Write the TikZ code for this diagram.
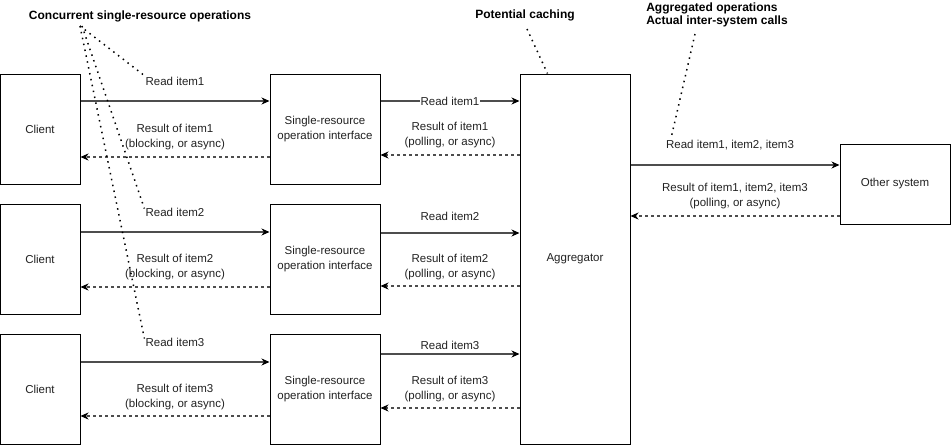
\documentclass[tikz,border=0pt]{standalone}
\usepackage{fontspec}
\setmainfont{Liberation Sans}
\usetikzlibrary{arrows.meta}
\definecolor{lne}{HTML}{4D4D4D}
\definecolor{txt}{HTML}{222222}
\begin{document}
\begin{tikzpicture}[x=1pt,y=-1pt,
  font=\fontsize{11.5}{15}\selectfont,
  box/.style={draw=black,line width=1pt,fill=white,minimum width=110pt,minimum height=110pt,inner sep=0pt,align=center,text=txt},
  fwd/.style={draw=lne,line width=1.2pt,-{Stealth[length=8pt,width=7pt,inset=2.5pt,color=black]}},
  bwd/.style={draw=lne,line width=1.1pt,dash pattern=on 3pt off 3pt,-{Stealth[length=8pt,width=7pt,inset=2.5pt,color=black]}},
  lbl/.style={align=center,text=txt,inner sep=1pt},
  ann/.style={align=left,font=\fontsize{12}{13.5}\selectfont\bfseries,inner sep=0pt},
  dots/.style={draw=black,line width=1.5pt,dash pattern=on 1.5pt off 4.5pt}]
\useasboundingbox (0,0) rectangle (951,445);

% boxes
\node[box,minimum width=80pt] (c1) at (40,129) {Client};
\node[box,minimum width=80pt] (c2) at (40,259) {Client};
\node[box,minimum width=80pt] (c3) at (40,389) {Client};
\node[box] (s1) at (325,129) {Single-resource\\operation interface};
\node[box] (s2) at (325,259) {Single-resource\\operation interface};
\node[box] (s3) at (325,389) {Single-resource\\operation interface};
\node[box,minimum height=370pt] (agg) at (575,259) {Aggregator};
\node[box,minimum height=80pt] (oth) at (895,184) {Other system};

% client <-> SRO
\draw[fwd] ([yshift=28]c1.east) -- ([yshift=28]s1.west);
\draw[bwd] ([yshift=-28]s1.west) -- ([yshift=-28]c1.east);
\draw[fwd] ([yshift=27]c2.east) -- ([yshift=27]s2.west);
\draw[bwd] ([yshift=-28]s2.west) -- ([yshift=-28]c2.east);
\draw[fwd] ([yshift=27]c3.east) -- ([yshift=27]s3.west);
\draw[bwd] ([yshift=-27]s3.west) -- ([yshift=-27]c3.east);

% SRO <-> aggregator
\draw[fwd] ([yshift=28]s1.east) -- ([yshift=28]s1.east -| agg.west);
\draw[bwd] ([yshift=-26]s1.east -| agg.west) -- ([yshift=-26]s1.east);
\draw[fwd] ([yshift=26]s2.east) -- ([yshift=26]s2.east -| agg.west);
\draw[bwd] ([yshift=-27]s2.east -| agg.west) -- ([yshift=-27]s2.east);
\draw[fwd] ([yshift=35]s3.east) -- ([yshift=35]s3.east -| agg.west);
\draw[bwd] ([yshift=-19]s3.east -| agg.west) -- ([yshift=-19]s3.east);

% aggregator <-> other
\draw[fwd] ([yshift=19]oth.west -| agg.east) -- ([yshift=19]oth.west);
\draw[bwd] ([yshift=-32]oth.west) -- ([yshift=-32]oth.west -| agg.east);

% labels client side
\node[lbl] (r1) at (175,81) {Read item1};
\node[lbl] (b1) at (175,137.5) {Result of item1\\(blocking, or async)};
\node[lbl] (r2) at (175,212) {Read item2};
\node[lbl] (b2) at (175,267) {Result of item2\\(blocking, or async)};
\node[lbl] (r3) at (175,342) {Read item3};
\node[lbl] (b3) at (175,397) {Result of item3\\(blocking, or async)};

% labels aggregator side
\node[lbl,fill=white] (q1) at (450,101) {Read item1};
\node[lbl] (p1) at (450,135.5) {Result of item1\\(polling, or async)};
\node[lbl] (q2) at (450,216) {Read item2};
\node[lbl] (p2) at (450,267) {Result of item2\\(polling, or async)};
\node[lbl] (q3) at (450,345) {Read item3};
\node[lbl] (p3) at (450,389) {Result of item3\\(polling, or async)};

% labels other side
\node[lbl] (qo) at (730,145) {Read item1, item2, item3};
\node[lbl] (po) at (735,196.5) {Result of item1, item2, item3\\(polling, or async)};

% annotations
\node[ann] (conc) at (140,16) {Concurrent single-resource operations};
\node[ann] (cach) at (525,15) {Potential caching};
\node[ann] (aggr) at (717,15) {Aggregated operations\\Actual inter-system calls};

\coordinate (k1) at (80,26);
\coordinate (k2) at (82,26);
\draw[dots] (k1) -- (r1.north west);
\draw[dots] (k2) -- ([yshift=-2]r2.north west);
\draw[dots] (k1) -- ([yshift=-2]r3.north west);
\coordinate (k3) at (527,29);
\draw[dots] (k3) -- ([xshift=28]agg.north west);
\coordinate (k4) at (695,34);
\draw[dots] (k4) -- ([xshift=6]qo.north west);
\end{tikzpicture}
\end{document}
